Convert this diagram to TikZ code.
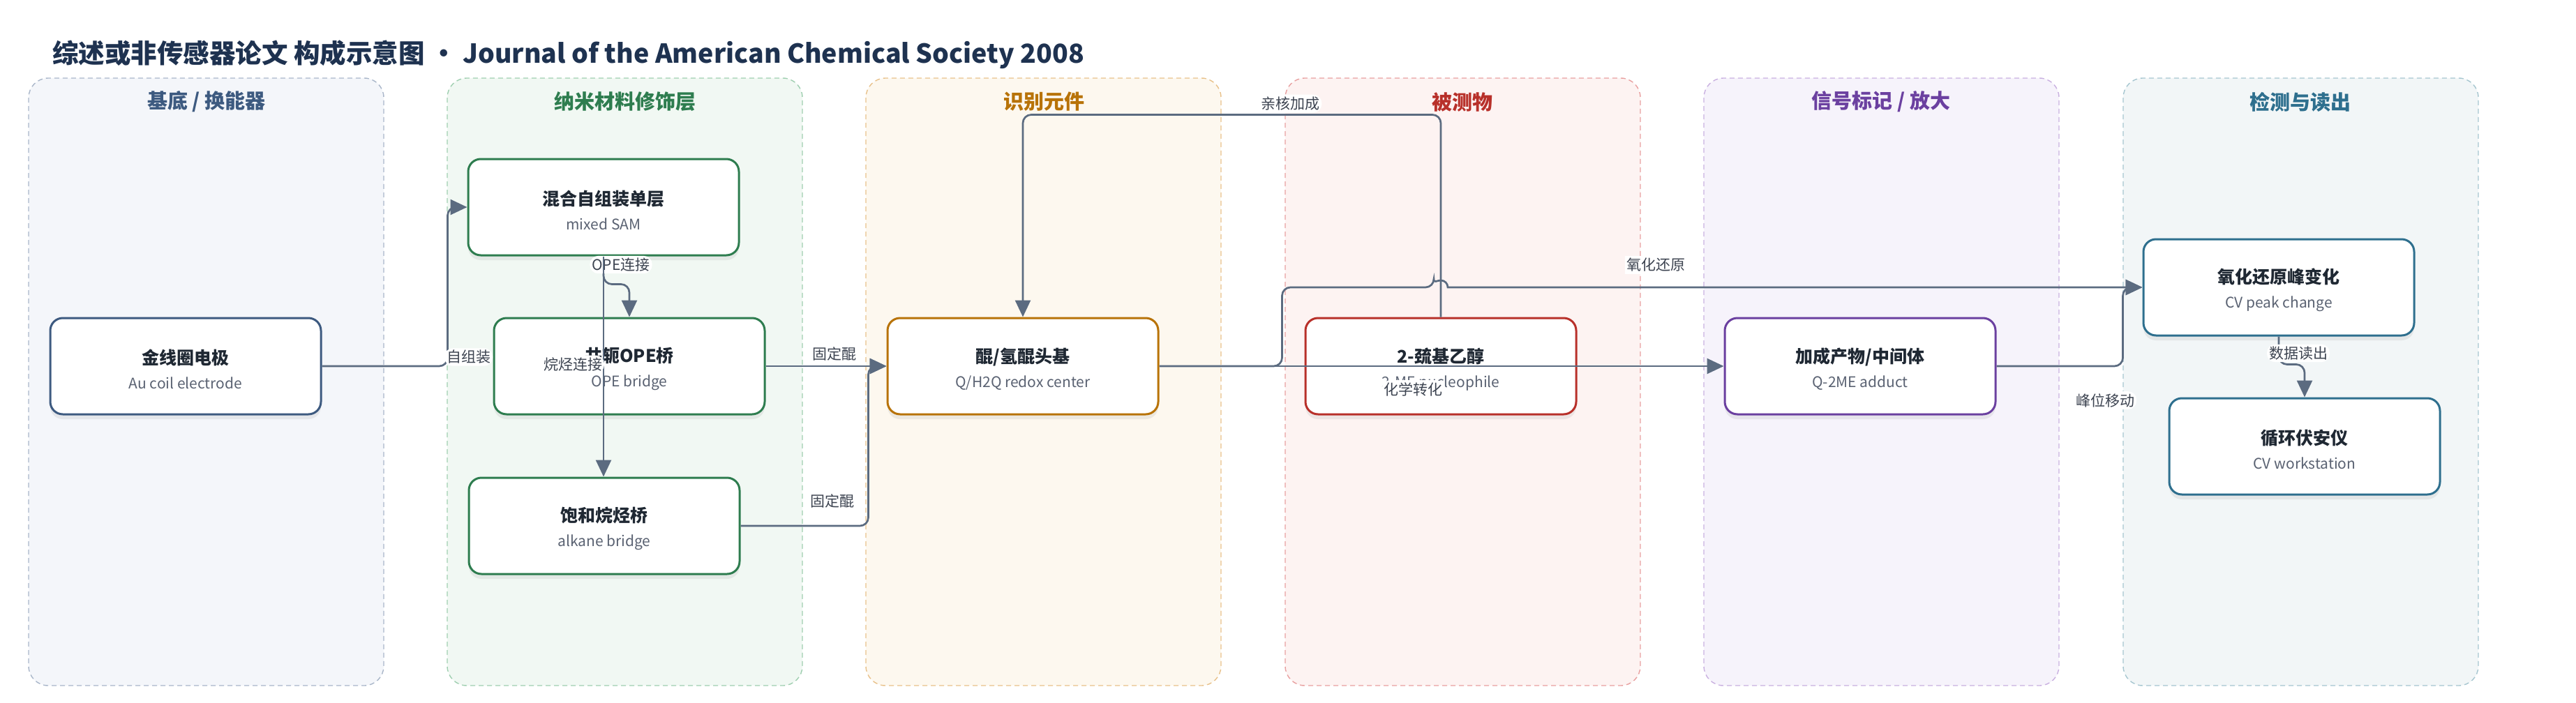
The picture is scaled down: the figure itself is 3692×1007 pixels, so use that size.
\documentclass[tikz,border=0pt]{standalone}
\usepackage{fontspec}
\setmainfont{Noto Sans CJK SC}
\usepackage{tikz}
\usetikzlibrary{arrows.meta,positioning,shadows}

\definecolor{titlec}{HTML}{1E3250}
\definecolor{textc}{HTML}{1F2833}
\definecolor{subc}{HTML}{5A6272}
\definecolor{edgec}{HTML}{5B6B80}
\definecolor{labc}{HTML}{3C4350}
% lane colours: border of box, dashed frame, fill
\definecolor{navy}{HTML}{3D5A80}   \definecolor{navyl}{HTML}{A9B6C9}   \definecolor{navyf}{HTML}{F4F6FA}
\definecolor{green}{HTML}{2E7D4F}  \definecolor{greenl}{HTML}{9FCFB0}  \definecolor{greenf}{HTML}{F1F8F3}
\definecolor{orange}{HTML}{B87308} \definecolor{orangel}{HTML}{E8C18A} \definecolor{orangef}{HTML}{FDF8EF}
\definecolor{red}{HTML}{B8302A}    \definecolor{redl}{HTML}{E8A0A0}    \definecolor{redf}{HTML}{FDF3F2}
\definecolor{purple}{HTML}{6B40A0} \definecolor{purplel}{HTML}{C9B0E0} \definecolor{purplef}{HTML}{F6F3FB}
\definecolor{teal}{HTML}{2E6F8E}   \definecolor{teall}{HTML}{A6C6D0}   \definecolor{tealf}{HTML}{F2F6F7}

\newcommand{\boxtext}[2]{\rule{0pt}{30pt}{\bfseries #1}\\{\fontsize{21}{35}\selectfont\color{subc}#2}}

\begin{document}
\begin{tikzpicture}[x=1pt,y=-1pt,>={Triangle[length=24pt,width=22pt]},
      lane/.style={draw=#1, dash pattern=on 7pt off 5pt, line width=1.4pt, rounded corners=28pt},
      head/.style={font=\fontsize{29}{34}\selectfont\bfseries, text=#1, inner sep=0pt},
      box/.style={draw=#1, fill=white, line width=3pt, rounded corners=18pt,
            minimum width=388pt, minimum height=138pt, align=center, text=textc,
            font=\fontsize{25}{35}\selectfont,
            drop shadow={opacity=0.13, shadow xshift=0pt, shadow yshift=-7pt}},
      edge/.style={->, draw=edgec, line width=2.7pt, rounded corners=12pt},
      elabel/.style={fill=white, inner sep=3pt, text=labc, font=\fontsize{21}{24}\selectfont}]

      \useasboundingbox (0,0) rectangle (3692,1007);

      \node[anchor=west, inner sep=0pt, text=titlec, font=\fontsize{37.5}{42}\selectfont\bfseries] (title) at (75,78)
            {综述或非传感器论文 构成示意图 · Journal of the American Chemical Society 2008};

      % lanes
      \draw[lane=navyl, fill=navyf] (41,112) rectangle (550,983);
      \draw[lane=greenl, fill=greenf] (641,112) rectangle (1150,983);
      \draw[lane=orangel, fill=orangef] (1241,112) rectangle (1750,983);
      \draw[lane=redl, fill=redf] (1842,112) rectangle (2351,983);
      \draw[lane=purplel, fill=purplef] (2442,112) rectangle (2951,983);
      \draw[lane=teall, fill=tealf] (3043,112) rectangle (3552,983);

      \node[head=navy] (h_1) at (296,146) {基底 / 换能器};
      \node[head=green] (h_2) at (896,146) {纳米材料修饰层};
      \node[head=orange] (h_3) at (1496,146) {识别元件};
      \node[head=red] (h_4) at (2096,146) {被测物};
      \node[head=purple] (h_5) at (2696,146) {信号标记 / 放大};
      \node[head=teal] (h_6) at (3297,146) {检测与读出};

      % boxes
      \node[box=navy] (au) at (266,525) {\boxtext{金线圈电极}{Au coil electrode}};
      \node[box=green] (sam) at (865,297) {\boxtext{混合自组装单层}{mixed SAM}};
      \node[box=green] (ope) at (902,525) {\boxtext{共轭OPE桥}{OPE bridge}};
      \node[box=green] (alk) at (866,754) {\boxtext{饱和烷烃桥}{alkane bridge}};
      \node[box=orange] (quin) at (1466,525) {\boxtext{醌/氢醌头基}{Q/H2Q redox center}};
      \node[box=red] (me) at (2065,525) {\boxtext{2-巯基乙醇}{2-ME nucleophile}};
      \node[box=purple] (add) at (2666,525) {\boxtext{加成产物/中间体}{Q-2ME adduct}};
      \node[box=teal] (cvp) at (3266,412) {\boxtext{氧化还原峰变化}{CV peak change}};
      \node[box=teal] (cvw) at (3303,640) {\boxtext{循环伏安仪}{CV workstation}};

      % connectors
      \draw[edge] (au.east) -| node[elabel, pos=0.5, xshift=30pt, yshift=13pt] {自组装}
            ([xshift=-28pt]sam.west) -- (sam.west);
      \draw[edge] (sam.south) -- node[elabel, pos=0.3, xshift=25pt] {OPE连接}
            ++(0,40) -| (ope.north);
      \draw[edge] (sam.south) -- node[elabel, pos=0.49, xshift=-44pt] {烷烃连接}
            (sam.south |- alk.north);
      \draw[edge] (ope.east) -- node[elabel, pos=0.57, yshift=18pt] {固定醌} (quin.west);
      \draw[edge] (alk.east) -| node[elabel, pos=0.36, yshift=36pt] {固定醌}
            ([xshift=-26pt]quin.west) -- (quin.west);
      \draw[edge] (me.north) -- ++(0,-290) -| node[elabel, pos=0.18, yshift=16pt] {亲核加成} (quin.north);
      \draw[edge] (quin.east) -- node[elabel, pos=0.45, yshift=-33pt] {化学转化} (add.west);
      \draw[edge] (quin.east) -- ++(176,0) |- ([xshift=-10pt]me.north |- cvp.west)
            [sharp corners] arc[start angle=180, end angle=0, radius=10pt]
            -- node[elabel, pos=0.3, yshift=32pt] {氧化还原} (cvp.west);
      \draw[edge] (add.east) -| node[elabel, pos=0.43, yshift=-49pt] {峰位移动}
            ([xshift=-28pt]cvp.west) -- (cvp.west);
      \draw[edge] (cvp.south) -- node[elabel, pos=0.6, xshift=28pt] {数据读出}
            ++(0,40) -| (cvw.north);

\end{tikzpicture}
\end{document}
